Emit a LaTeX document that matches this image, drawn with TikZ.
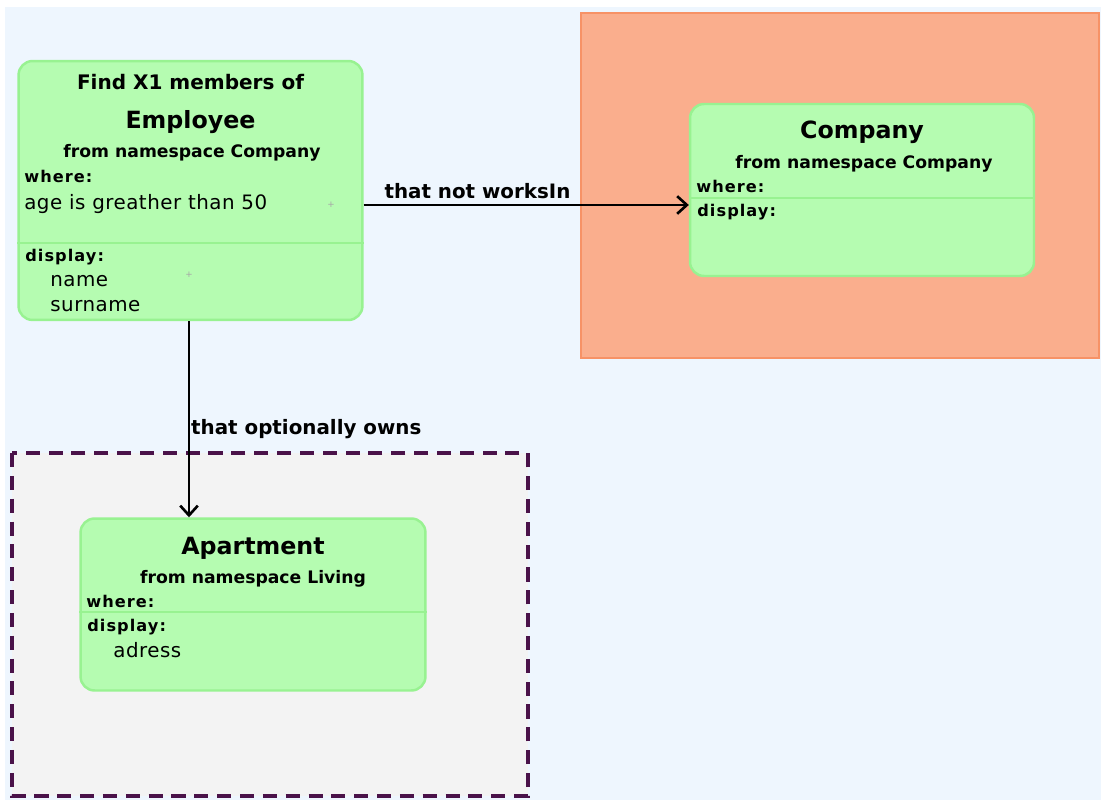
\documentclass[tikz,border=0pt]{standalone}
\usepackage{fontspec}
\setmainfont{DejaVu Sans}
\usetikzlibrary{arrows.meta}
\usetikzlibrary{positioning}

\definecolor{canvas}{HTML}{EEF6FE}
\definecolor{pkgfill}{HTML}{FAAE8D}
\definecolor{pkgline}{HTML}{F79266}
\definecolor{optfill}{HTML}{F3F3F3}
\definecolor{optline}{HTML}{4A1249}
\definecolor{clsfill}{HTML}{B5FCB1}
\definecolor{clsline}{HTML}{98F291}

\newcommand{\fs}[1]{\fontsize{#1}{#1}\selectfont}

\begin{document}
\begin{tikzpicture}[
    x=0.02cm, y=-0.02cm,
    font=\fs{9}
]
\tikzset{
    pkgbox/.style = {draw=pkgline, fill=pkgfill, line width=1.2pt},
    optbox/.style = {draw=optline, fill=optfill, line width=1.8pt, dash pattern=on 8pt off 5pt},
    clsbox/.style = {rectangle, rounded corners=8pt, draw=clsline, fill=clsfill, line width=1.4pt, inner sep=0pt},
    sepline/.style = {draw=clsline, line width=1.4pt},
    txt/.style = {inner sep=0pt, anchor=base west},
    ttl/.style = {inner sep=0pt, anchor=base, font=\fs{13.5}\bfseries},
    ns/.style = {inner sep=0pt, anchor=base, font=\fs{9.8}\bfseries},
    kw/.style = {txt, font=\fs{9.2}\bfseries\addfontfeature{LetterSpace=6.5}},
    val/.style = {txt, font=\fs{11.3}\addfontfeature{LetterSpace=2.5}},
    lbl/.style = {inner sep=3pt, font=\fs{11.3}\bfseries},
    plus/.style = {inner sep=0pt, text=black!35, font=\fs{5}},
    link/.style = {-{Straight Barb[length=5.5pt,width=10pt]}, line width=1.5pt, black}
}
\useasboundingbox (0,0) rectangle (1101,800);
\fill[canvas] (5,7) rectangle (1101,800);

% containers
\draw[pkgbox] (581,13) rectangle (1099,358);
\draw[optbox] (12,453) rectangle (528,796);

% Employee
\node[clsbox, minimum width=6.88cm, minimum height=5.18cm] at (190.5,190.5) (emp) {};
\node[ns, font=\fs{11.4}\bfseries] at (190.5,90) (empfind) {Find X1 members of};
\node[ttl] at (190.5,129) (emptitle) {Employee};
\node[ns] at (192,158) (empns) {from namespace Company};
\node[kw] at (24,183) (empwhere) {where:};
\node[val] at (24,210) (empcond) {age is greather than 50};
\draw[sepline] (emp.west |- 0,243) -- (emp.east |- 0,243);
\node[kw] at (25,262) (empdisp) {display:};
\node[val] at (50,287) (empname) {name};
\node[val] at (50,312) (empsurname) {surname};
\node[plus] at (331,205) (empplusa) {+};
\node[plus] at (189,275) (empplusb) {+};

% Company
\node[clsbox, minimum width=6.88cm, minimum height=3.44cm] at (862,190) (comp) {};
\node[ttl] at (862,139) (comptitle) {Company};
\node[ns] at (864,169) (compns) {from namespace Company};
\node[kw] at (696,193) (compwhere) {where:};
\draw[sepline] (comp.west |- 0,198) -- (comp.east |- 0,198);
\node[kw] at (697,217) (compdisp) {display:};

% Apartment
\node[clsbox, minimum width=6.9cm, minimum height=3.44cm] at (253,604.5) (apt) {};
\node[ttl] at (253,554) (apttitle) {Apartment};
\node[ns] at (253,583) (aptns) {from namespace Living};
\node[kw] at (86,607) (aptwhere) {where:};
\draw[sepline] (apt.west |- 0,612) -- (apt.east |- 0,612);
\node[kw] at (87,631) (aptdisp) {display:};
\node[val] at (113,657) (aptaddr) {adress};

% relations
\draw[link] (emp.east |- 0,205) -- node[pos=0.35, above, lbl] {that not worksIn} (comp.west |- 0,205);
\draw[link] (emp.south -| 189,0) -- node[pos=0.55, right, lbl, inner sep=0.5pt] {that optionally owns} (apt.north -| 189,0);
\end{tikzpicture}
\end{document}
